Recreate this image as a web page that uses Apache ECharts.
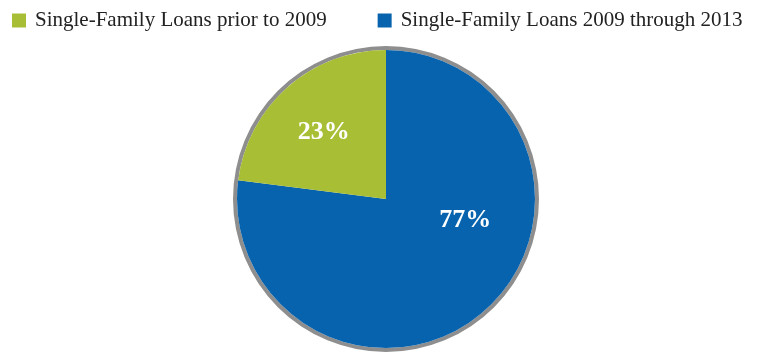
<!DOCTYPE html>
<html><head><meta charset="utf-8">
<script src="https://cdn.jsdelivr.net/npm/echarts@6/dist/echarts.min.js"></script>
<style>html,body{margin:0;padding:0;background:#fff}#c{width:761px;height:352px}</style>
</head><body><div id="c"></div>
<script>
const categories = ['Single-Family Loans 2009 through 2013', 'Single-Family Loans prior to 2009'];
const values = [77, 23];
const colors = ['#0763ad', '#a8bf35'];

const chart = echarts.init(document.getElementById('c'), null, {renderer: 'canvas'});
const labelShift = [[28, -37], [-11, -9]];
chart.setOption({
  animation: false,
  legend: {
    data: [categories[1], categories[0]],
    left: 7, top: 5,
    icon: 'rect', itemWidth: 14, itemHeight: 14, itemGap: 51,
    textStyle: {fontFamily: 'Liberation Serif', fontSize: 21, color: '#222', padding: [0, 0, 0, 4]}
  },
  series: [
    {
      type: 'pie', silent: true, center: [386, 199], radius: [149, 153],
      data: [{value: 1, name: 'ring', itemStyle: {color: '#8e8e8e'}}],
      label: {show: false}, labelLine: {show: false}, legendHoverLink: false
    },
    {
      type: 'pie', center: [386, 199], radius: [0, 149], startAngle: 90, clockwise: true,
      data: categories.map((n, i) => ({name: n, value: values[i], itemStyle: {color: colors[i]}})),
      itemStyle: {borderWidth: 0},
      label: {show: true, position: 'inside', formatter: '{c}%', color: '#fff',
        fontFamily: 'Liberation Serif', fontWeight: 'bold', fontSize: 26},
      labelLayout: function (p) { const s = labelShift[p.dataIndex]; return {dx: s[0], dy: s[1]}; },
      labelLine: {show: false}
    }
  ]
});
</script></body></html>
